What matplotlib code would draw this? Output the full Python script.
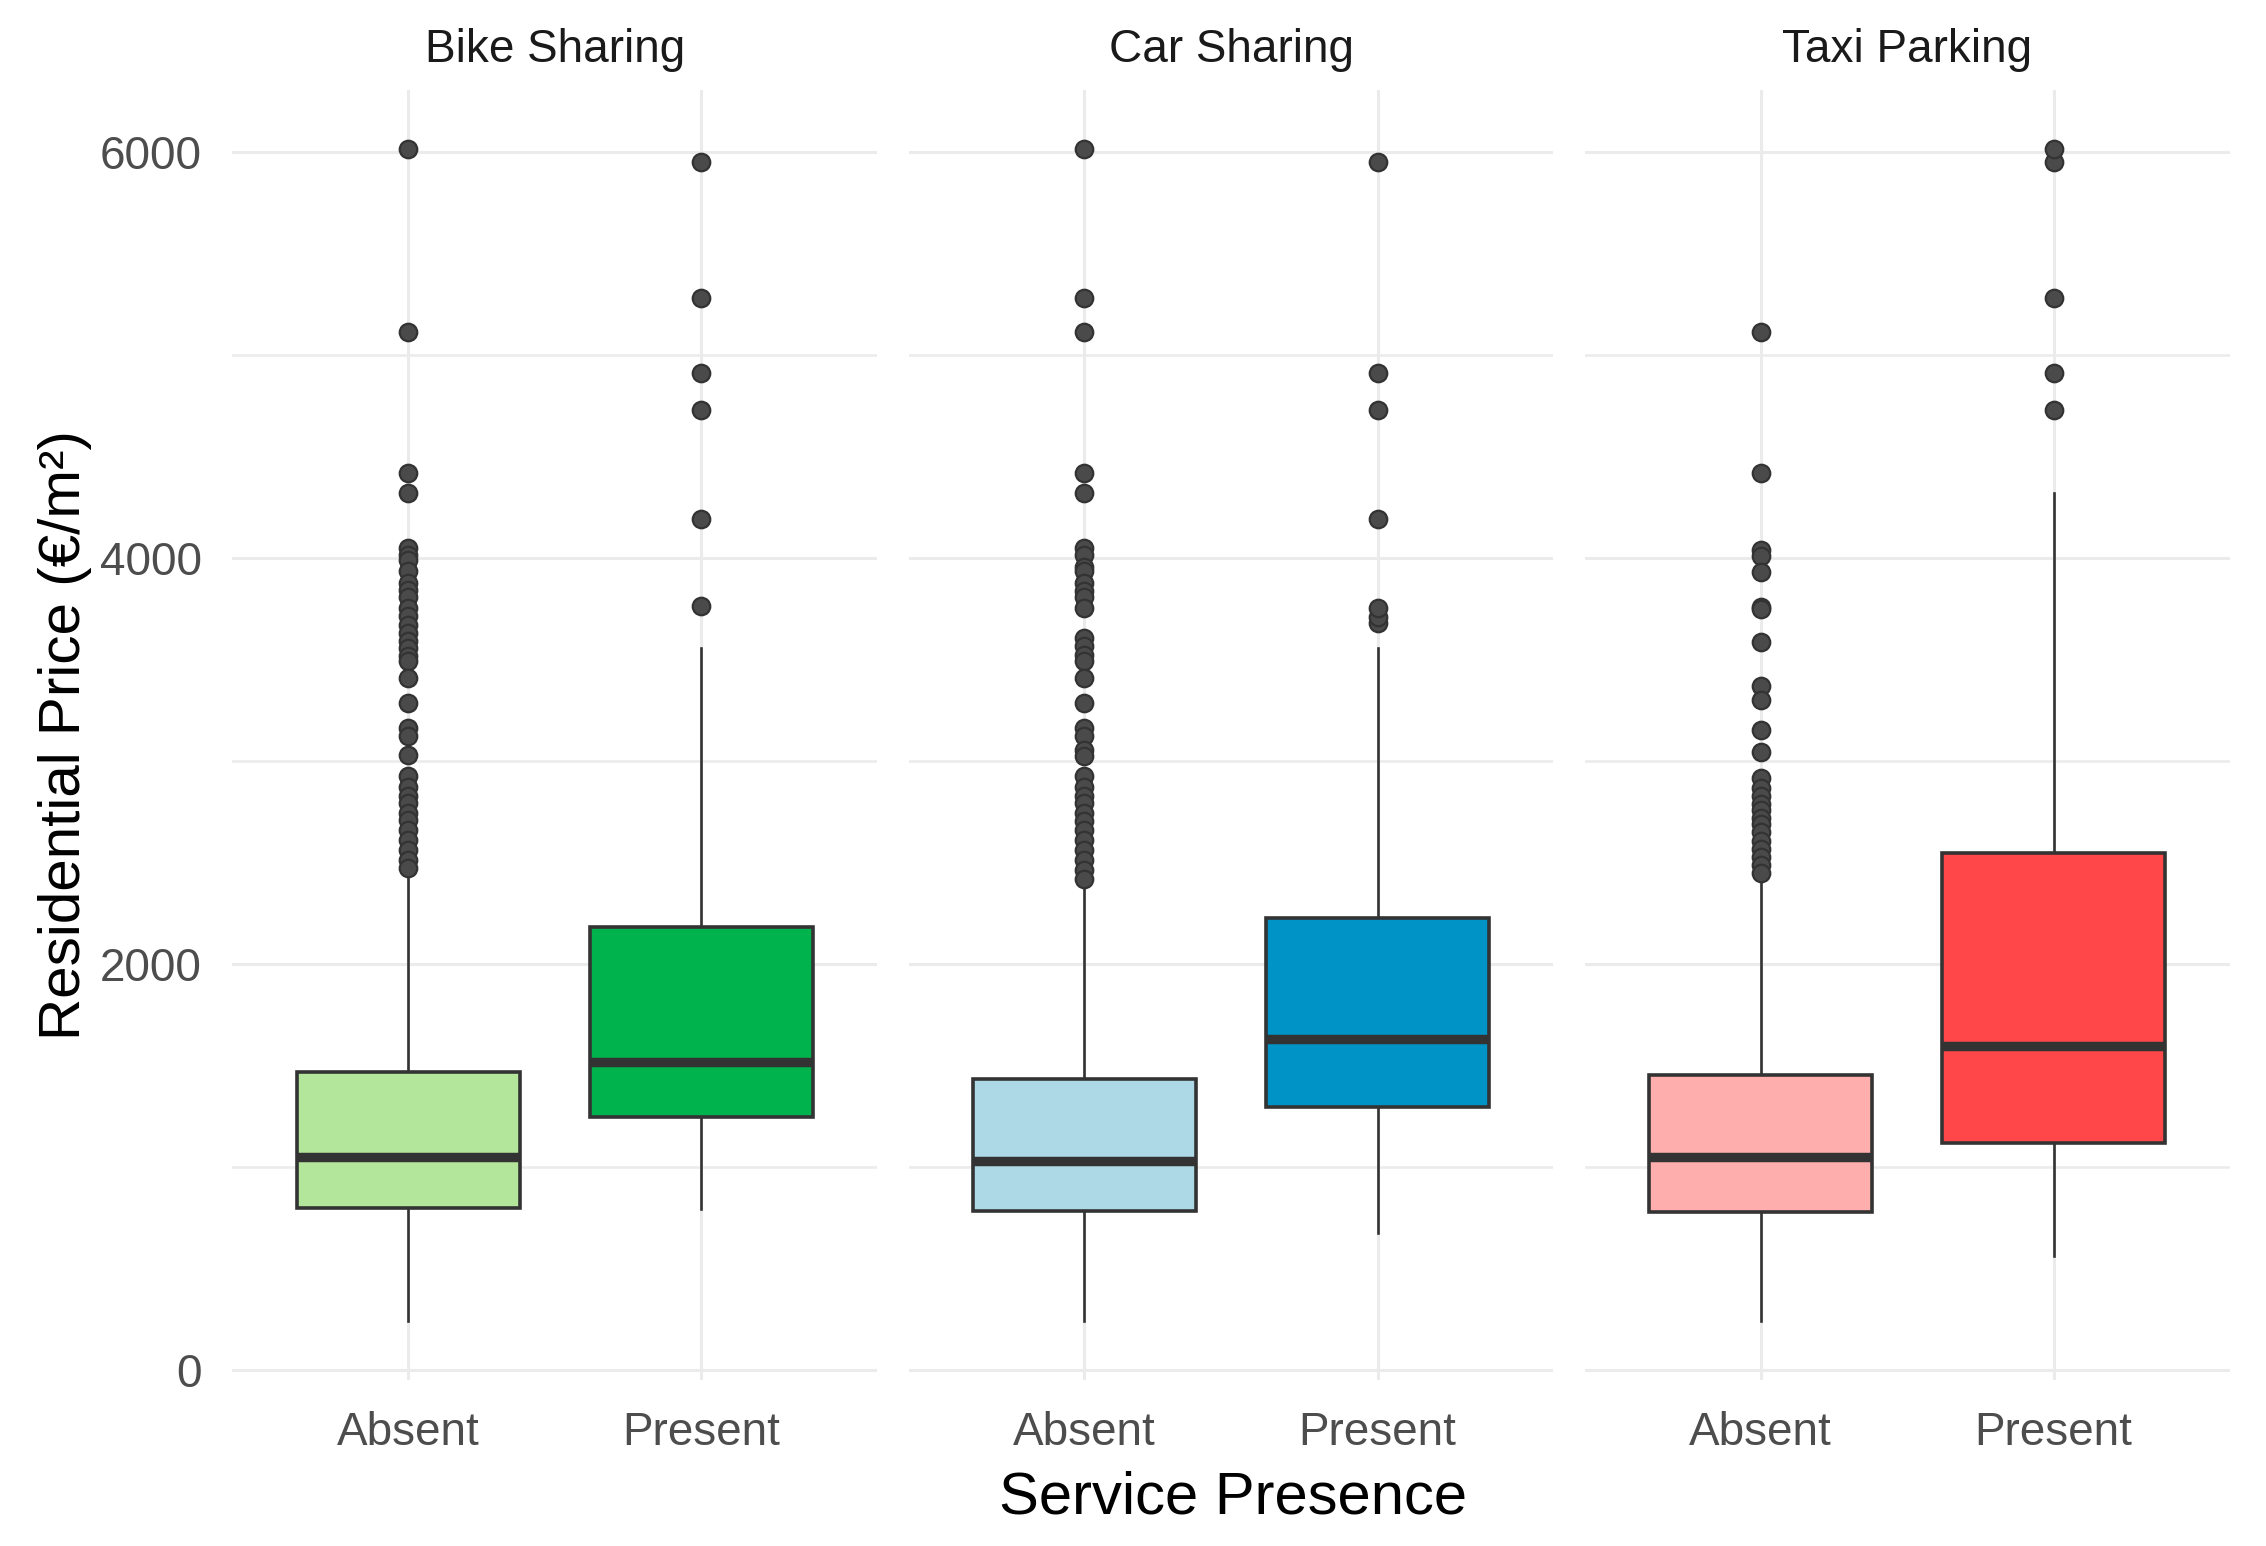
import matplotlib
matplotlib.use("Agg")
import matplotlib.pyplot as plt

plt.rcParams['font.family'] = ['Liberation Sans', 'DejaVu Sans']

# facets and groups
services = ["Bike Sharing", "Car Sharing", "Taxi Parking"]
groups = ["Absent", "Present"]

# box stats, one list per service: [Absent, Present]
whislo = [[241, 793], [241, 677], [242, 562]]
q1 = [[797, 1248], [783, 1298], [782, 1118]]
med = [[1051, 1517], [1031, 1632], [1051, 1599]]
q3 = [[1468, 2184], [1435, 2230], [1454, 2549]]
whishi = [[2450, 3557], [2395, 3557], [2410, 4324]]

bike_absent_out = [6019, 5116, 4420, 4322, 4051, 4018, 3993, 3936, 3878, 3845,
                   3812, 3755, 3714, 3673, 3632, 3591, 3558, 3517, 3492, 3410,
                   3287, 3164, 3123, 3032, 2926, 2876, 2827, 2795, 2745, 2712,
                   2663, 2614, 2564, 2515, 2474]
bike_present_out = [3765, 4196, 4733, 4915, 5283, 5951]
car_absent_out = [6019, 5283, 5116, 4420, 4322, 4051, 4018, 3960, 3936, 3878,
                  3837, 3812, 3755, 3607, 3566, 3525, 3492, 3410, 3287, 3164,
                  3123, 3057, 3024, 2926, 2876, 2827, 2795, 2745, 2704, 2663,
                  2614, 2564, 2515, 2466, 2420]
car_present_out = [3680, 3710, 3755, 4196, 4733, 4915, 5951]
taxi_absent_out = [5116, 4420, 4040, 4010, 3932, 3760, 3750, 3590, 3372, 3300,
                   3155, 3047, 2916, 2870, 2830, 2790, 2758, 2720, 2690, 2650,
                   2610, 2570, 2530, 2490, 2450]
taxi_present_out = [4733, 4915, 5283, 5951, 6019]
outliers = [[bike_absent_out, bike_present_out],
            [car_absent_out, car_present_out],
            [taxi_absent_out, taxi_present_out]]

fills = [["#B3E69B", "#00B34C"],
         ["#ADD8E6", "#0093C6"],
         ["#FFAEAE", "#FF4649"]]

fig, axes = plt.subplots(1, 3, figsize=(11.33, 7.73), dpi=200, sharey=True)
fig.subplots_adjust(left=0.1026, right=0.9839, bottom=0.1074, top=0.9418, wspace=0.0487)

line_col = "#333333"
for i, ax in enumerate(axes):
    stats = []
    for j in range(2):
        stats.append(dict(whislo=whislo[i][j], q1=q1[i][j], med=med[i][j],
                          q3=q3[i][j], whishi=whishi[i][j], fliers=outliers[i][j]))
    res = ax.bxp(stats, positions=[1, 2], widths=0.76, patch_artist=True,
                 showcaps=False, showfliers=True,
                 boxprops=dict(edgecolor=line_col, linewidth=1.3),
                 whiskerprops=dict(color=line_col, linewidth=0.95),
                 medianprops=dict(color=line_col, linewidth=3.4, solid_capstyle='butt'),
                 flierprops=dict(marker='o', markersize=6.3, markerfacecolor='#4A4A4A',
                                 markeredgecolor='#333333', markeredgewidth=0.8,
                                 linestyle='none'))
    for patch, c in zip(res['boxes'], fills[i]):
        patch.set_facecolor(c)
        patch.set_zorder(3)
    for m in res['medians']:
        m.set_zorder(4)

    ax.set_xlim(0.4, 2.6)
    ax.set_ylim(-48, 6308)
    ax.set_xticks([1, 2])
    ax.set_xticklabels(groups)
    ax.set_yticks([0, 2000, 4000, 6000])
    ax.set_yticks([1000, 3000, 5000], minor=True)
    ax.grid(True, which='major', color='#EBEBEB', linewidth=1.1)
    ax.grid(True, which='minor', axis='y', color='#EBEBEB', linewidth=0.9)
    ax.set_axisbelow(True)
    for s in ax.spines.values():
        s.set_visible(False)
    ax.tick_params(which='both', length=0, labelsize=16.5, labelcolor='#4D4D4D', pad=11)
    ax.set_title(services[i], fontsize=16.5, color='#1A1A1A', pad=10)

axes[0].set_ylabel("Residential Price (€/m²)", fontsize=21, color='black', labelpad=3)
fig.text(0.544, 0.013, "Service Presence", ha='center', va='bottom', fontsize=21.5, color='black')

fig.savefig("out.png", dpi=200)
